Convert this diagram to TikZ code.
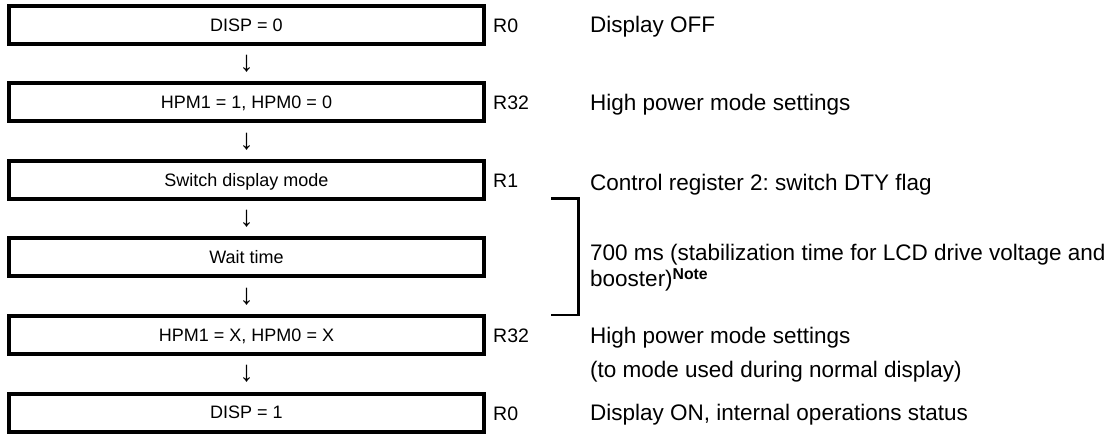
\documentclass[tikz,border=0pt]{standalone}
\usepackage{fontspec}
\setmainfont{Liberation Sans}
\frenchspacing
\begin{document}
\begin{tikzpicture}[x=1pt,y=-1pt,
  stepbox/.style={draw, line width=4pt, minimum width=475pt, minimum height=38pt,
    inner sep=0pt, text height=12.9pt, text depth=0pt, font=\fontsize{18}{21}\selectfont},
  arr/.style={inner sep=0pt, font=\fontsize{29}{31}\selectfont},
  reg/.style={anchor=base west, inner sep=0pt, font=\fontsize{19.5}{23}\selectfont},
  desc/.style={anchor=base west, inner sep=0pt, font=\fontsize{22.5}{26}\selectfont},
  brk/.style={line width=2.5pt}]
\useasboundingbox (0,0) rectangle (1113,435);
% boxes
\node[stepbox] (b1) at (246.5,25)    {DISP = 0};
\node[stepbox] (b2) at (246.5,102.5) {HPM1 = 1, HPM0 = 0};
\node[stepbox] (b3) at (246.5,180)   {Switch display mode};
\node[stepbox] (b4) at (246.5,257.5) {Wait time};
\node[stepbox] (b5) at (246.5,335)   {HPM1 = X, HPM0 = X};
\node[stepbox] (b6) at (246.5,412.5) {DISP = 1};
% arrows
\node[arr] (a1) at (246.5,64)  {↓};
\node[arr] (a2) at (246.5,141.5) {↓};
\node[arr] (a3) at (246.5,219) {↓};
\node[arr] (a4) at (246.5,296.5) {↓};
\node[arr] (a5) at (246.5,374) {↓};
% register labels
\node[reg] (r1) at (493,32.5)  {R0};
\node[reg] (r2) at (493,110) {R32};
\node[reg] (r3) at (493,187.5) {R1};
\node[reg] (r5) at (493,342.5) {R32};
\node[reg] (r6) at (493,420) {R0};
% descriptions
\node[desc] (d1) at (590,33)  {Display OFF};
\node[desc] (d2) at (590,110.5) {High power mode settings};
\node[desc] (d3) at (590,191) {Control register 2: switch DTY flag};
\node[desc] (d4) at (590,261) {700 ms (stabilization time for LCD drive voltage and};
\node[desc] (d4b) at (590,287) {booster)\textsuperscript{\bfseries Note}};
\node[desc] (d5) at (590,343) {High power mode settings};
\node[desc] (d5b) at (590,377) {(to mode used during normal display)};
\node[desc] (d6) at (590,420.5) {Display ON, internal operations status};
% bracket
\coordinate (k1) at (551,198.5);
\coordinate (k2) at (578.5,198.5);
\coordinate (k3) at (578.5,315);
\coordinate (k4) at (551,315);
\draw[brk] (k1) -- (k2) -- (k3) -- (k4);
\end{tikzpicture}
\end{document}
